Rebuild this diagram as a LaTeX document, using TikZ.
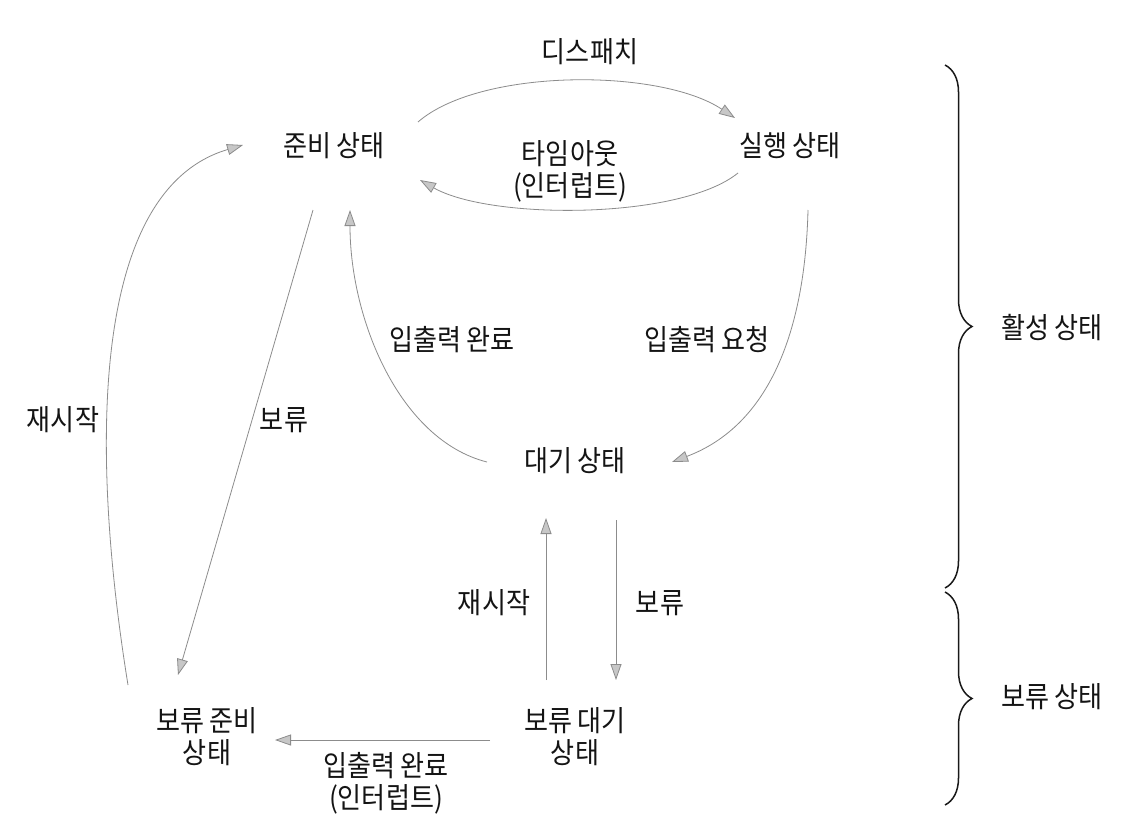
\documentclass[tikz,border=0pt]{standalone}
\usepackage{fontspec}
\newfontfamily\kr[FakeStretch=0.9]{Noto Sans CJK KR}
\usetikzlibrary{arrows.meta,decorations.pathreplacing}
\begin{document}
\begin{tikzpicture}[x=1pt,y=-1pt,
  lbl/.style={font=\kr\fontsize{29}{32}\selectfont, align=center, inner sep=0pt, text=black!92},
  conn/.style={draw=black!45, line width=0.8pt, -{Triangle[length=16pt,width=11pt,fill=black!22]}},
  bracestyle/.style={draw=black!90, line width=1.5pt, decorate, decoration={brace, amplitude=27pt}}]
\useasboundingbox[fill=white] (0,0) rectangle (1124,836);
% states
\node[lbl] (ready) at (334,146) {준비 상태};
\node[lbl] (run) at (790,146) {실행 상태};
\node[lbl] (wait) at (575,461) {대기 상태};
\node[lbl] (sready) at (207,737) {보류 준비\\상태};
\node[lbl] (swait) at (575,737) {보류 대기\\상태};
% transition labels
\node[lbl] (ldispatch) at (590,52) {디스패치};
\node[lbl] (ltimeout) at (570,171) {타임아웃\\(인터럽트)};
\node[lbl] (liodone) at (452,340) {입출력 완료};
\node[lbl] (lioreq) at (707,340) {입출력 요청};
\node[lbl] (lrestart) at (63,420) {재시작};
\node[lbl] (lhold) at (284,420) {보류};
\node[lbl] (lrestart2) at (494,603) {재시작};
\node[lbl] (lhold2) at (660,603) {보류};
\node[lbl] (liodone2) at (386,783) {입출력 완료\\(인터럽트)};
% group labels
\node[lbl] (lactive) at (1052,328) {활성 상태};
\node[lbl] (lsusp) at (1052,697) {보류 상태};
% connectors
\draw[conn] ([shift={(84,-24)}]ready.center) .. controls (480,68) and (660,68) .. ([shift={(-55,-28)}]run.center);
\draw[conn] ([shift={(-52,27)}]run.center) .. controls (680,220) and (490,220) .. ([shift={(86,34)}]ready.center);
\draw[conn] ([shift={(18,64)}]run.center) .. controls (805,330) and (770,425) .. ([shift={(97,1)}]wait.center);
\draw[conn] ([shift={(-88,1)}]wait.center) .. controls (400,440) and (350,320) .. ([shift={(16,64)}]ready.center);
\draw[conn] ([shift={(-21,64)}]ready.center) -- ([shift={(-29,-62)}]sready.center);
\draw[conn] ([shift={(-79,-52)}]sready.center) .. controls (90,450) and (90,190) .. ([shift={(-91,-1)}]ready.center);
\draw[conn] ([shift={(-29,-57)}]swait.center) -- ([shift={(-29,57)}]wait.center);
\draw[conn] ([shift={(41,59)}]wait.center) -- ([shift={(41,-57)}]swait.center);
\draw[conn] ([shift={(-85,3)}]swait.center) -- ([shift={(68,3)}]sready.center);
% braces
\coordinate (b1t) at (945,65);
\coordinate (b1b) at (945,588);
\coordinate (b2t) at (945,592);
\coordinate (b2b) at (945,805);
\draw[bracestyle] (b1t) -- (b1b);
\draw[bracestyle] (b2t) -- (b2b);
\end{tikzpicture}
\end{document}
